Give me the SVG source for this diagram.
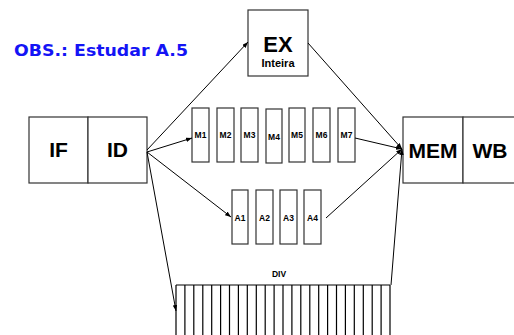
<svg xmlns="http://www.w3.org/2000/svg" width="514" height="335" viewBox="0 0 514 335">
  <defs>
    <marker id="ah" markerUnits="userSpaceOnUse" markerWidth="6" markerHeight="4.5" refX="6" refY="2.25" orient="auto">
      <path d="M0,0 L6,2.25 L0,4.5 z" fill="#000"/>
    </marker>
    <style>
      .box{fill:#fff;stroke:#333;stroke-width:1.2}
      .big{font-family:"Liberation Sans",Arial,sans-serif;font-weight:bold;font-size:21px;text-anchor:middle;fill:#000}
      .sm{font-family:"Liberation Sans",Arial,sans-serif;font-weight:bold;font-size:8.5px;text-anchor:middle;fill:#000}
      .conn{stroke:#000;stroke-width:1;fill:none;marker-end:url(#ah)}
      .div{stroke:#000;stroke-width:1.2;fill:none}
    </style>
  </defs>
  <rect width="514" height="335" fill="#fff"/>

  <text x="14" y="56" font-family="'DejaVu Sans',sans-serif" font-weight="bold" font-size="16" fill="#1414f5" textLength="174" lengthAdjust="spacingAndGlyphs">OBS.: Estudar A.5</text>

  <g id="IF"><rect class="box" x="29" y="117" width="59" height="66"/><text class="big" x="58.5" y="157">IF</text></g>
  <g id="ID"><rect class="box" x="88" y="117" width="59" height="66"/><text class="big" x="117.5" y="157">ID</text></g>
  <g id="EX"><rect class="box" x="248" y="10" width="60" height="66"/><text class="big" x="278" y="52" style="font-size:22px">EX</text><text class="sm" x="278" y="67" style="font-size:11px">Inteira</text></g>
  <g id="MEM"><rect class="box" x="403" y="117" width="60" height="66"/><text class="big" x="433" y="158">MEM</text></g>
  <g id="WB"><rect class="box" x="463" y="117" width="60" height="66"/><text class="big" x="490" y="158">WB</text></g>

  <g id="M1"><rect class="box" x="192" y="108" width="17" height="54"/><text class="sm" x="200.5" y="138">M1</text></g>
  <g id="M2"><rect class="box" x="217" y="108" width="17" height="54"/><text class="sm" x="225.5" y="138">M2</text></g>
  <g id="M3"><rect class="box" x="241" y="108" width="17" height="54"/><text class="sm" x="249.5" y="138">M3</text></g>
  <g id="M4"><rect class="box" x="266" y="109" width="16" height="54"/><text class="sm" x="274" y="140">M4</text></g>
  <g id="M5"><rect class="box" x="289" y="108" width="16" height="54"/><text class="sm" x="297" y="138">M5</text></g>
  <g id="M6"><rect class="box" x="313" y="108" width="17" height="54"/><text class="sm" x="321.5" y="138">M6</text></g>
  <g id="M7"><rect class="box" x="338" y="108" width="17" height="54"/><text class="sm" x="346.5" y="138">M7</text></g>

  <g id="A1"><rect class="box" x="232" y="190" width="16" height="54"/><text class="sm" x="240" y="221">A1</text></g>
  <g id="A2"><rect class="box" x="256" y="190" width="17" height="54"/><text class="sm" x="264.5" y="221">A2</text></g>
  <g id="A3"><rect class="box" x="280" y="190" width="17" height="54"/><text class="sm" x="288.5" y="221">A3</text></g>
  <g id="A4"><rect class="box" x="304" y="190" width="17" height="54"/><text class="sm" x="312.5" y="221">A4</text></g>

  <g id="DIV">
    <text class="sm" x="279" y="277">DIV</text>
    <path class="div" d="M176,285 H390 M176,285 V335 M184.9,285 V335 M193.8,285 V335 M202.8,285 V335 M211.7,285 V335 M220.6,285 V335 M229.5,285 V335 M238.4,285 V335 M247.3,285 V335 M256.3,285 V335 M265.2,285 V335 M274.1,285 V335 M283,285 V335 M291.9,285 V335 M300.8,285 V335 M309.8,285 V335 M318.7,285 V335 M327.6,285 V335 M336.5,285 V335 M345.4,285 V335 M354.3,285 V335 M363.3,285 V335 M372.2,285 V335 M381.1,285 V335 M390,285 V335"/>
  </g>

  <g id="connectors">
    <line class="conn" x1="147" y1="150" x2="248" y2="42"/>
    <line class="conn" x1="147" y1="152" x2="192" y2="138"/>
    <line class="conn" x1="147" y1="152" x2="231" y2="217"/>
    <line class="conn" x1="147" y1="152" x2="176" y2="311"/>
    <line class="conn" x1="308" y1="43" x2="402" y2="149"/>
    <line class="conn" x1="355" y1="138" x2="402" y2="149"/>
    <line class="conn" x1="326" y1="218" x2="402" y2="149"/>
    <line class="conn" x1="391" y1="285" x2="402" y2="149"/>
  </g>
</svg>
